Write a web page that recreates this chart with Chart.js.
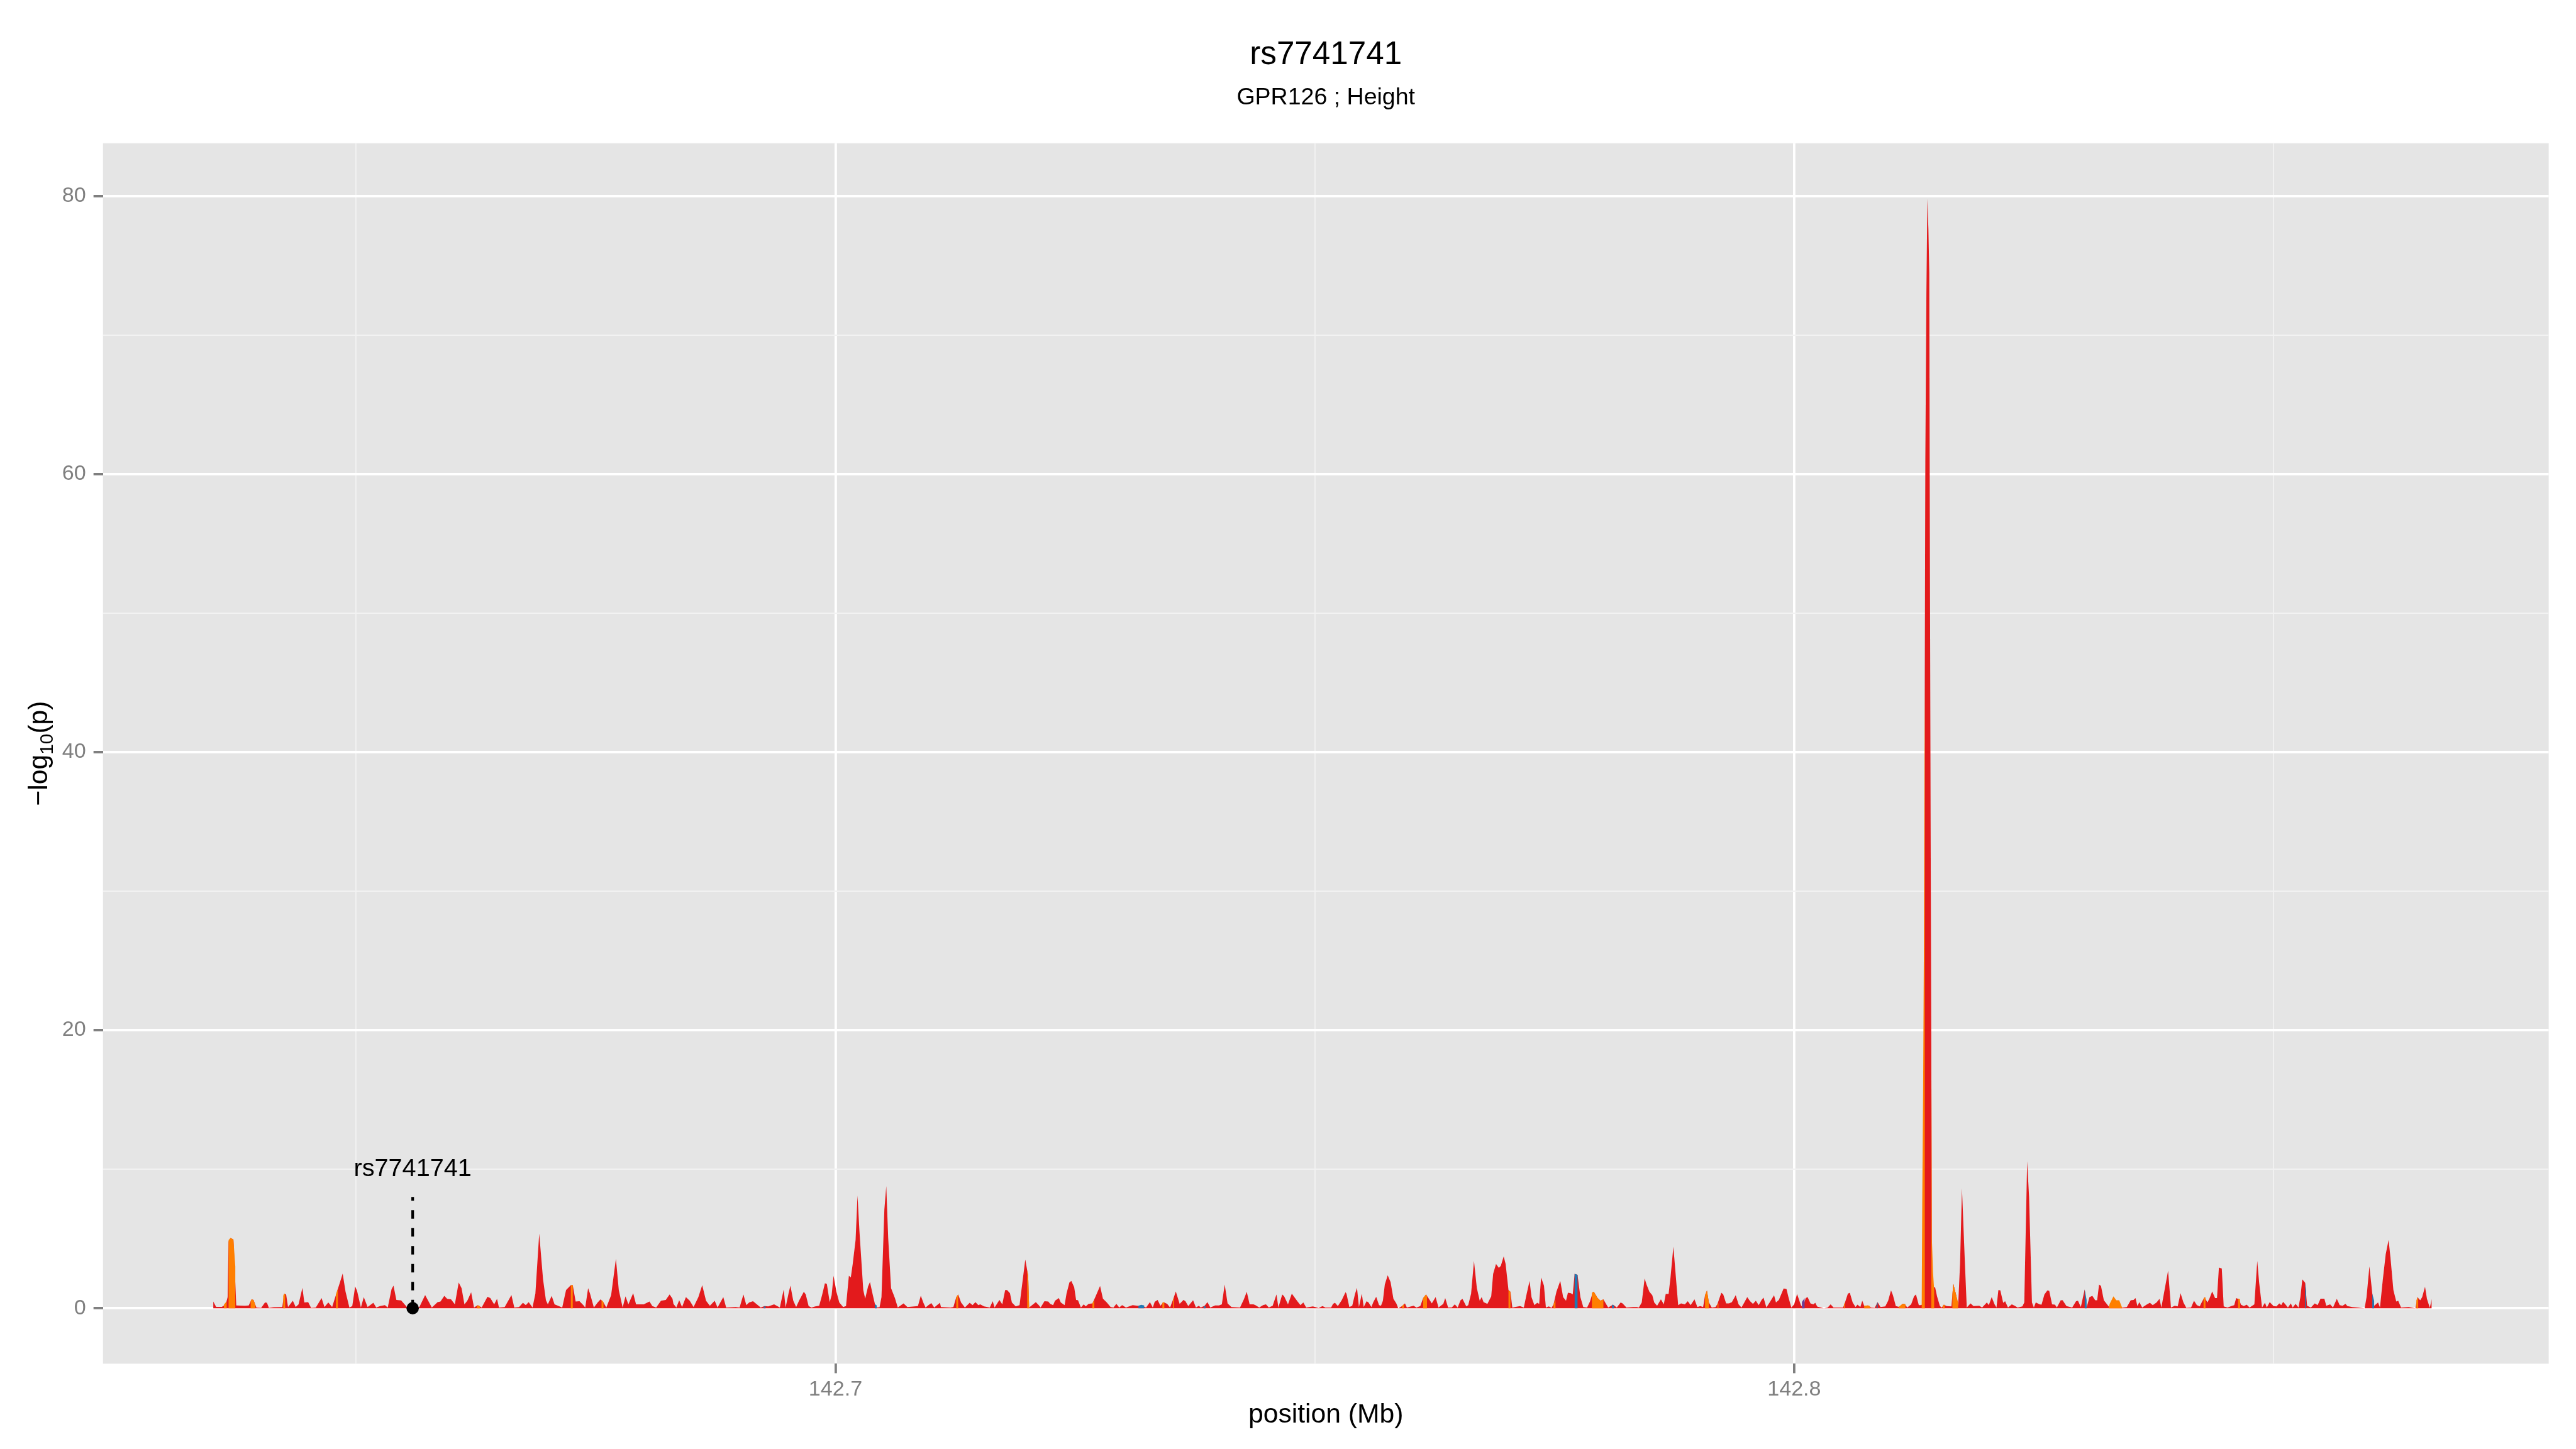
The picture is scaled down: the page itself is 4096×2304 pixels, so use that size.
<!DOCTYPE html>
<html>
<head>
<meta charset="utf-8">
<title>rs7741741</title>
<script src="https://cdn.jsdelivr.net/npm/chart.js@4/dist/chart.umd.min.js"></script>
<style>
  html, body { margin: 0; padding: 0; background: #fff; }
  canvas { display: block; }
</style>
</head>
<body>
<canvas id="chart" width="4096" height="2304"></canvas>
<script>
// positions in Mb, values are -log10(p)
const redPos = [
  142.6351, 142.6354, 142.6360, 142.6364, 142.6366, 142.6367, 142.6369, 142.6372, 142.6375, 142.6384,
  142.6388, 142.6391, 142.6393, 142.6396, 142.6401, 142.6405, 142.6407, 142.6409, 142.6414, 142.6423,
  142.6425, 142.6427, 142.6429, 142.6434, 142.6437, 142.6440, 142.6444, 142.6446, 142.6450, 142.6453,
  142.6458, 142.6464, 142.6467, 142.6471, 142.6475, 142.6480, 142.6483, 142.6486, 142.6489, 142.6493,
  142.6496, 142.6499, 142.6501, 142.6505, 142.6508, 142.6512, 142.6518, 142.6521, 142.6525, 142.6530,
  142.6533, 142.6537, 142.6539, 142.6542, 142.6547, 142.6553, 142.6559, 142.6566, 142.6572, 142.6579,
  142.6585, 142.6588, 142.6592, 142.6595, 142.6599, 142.6603, 142.6607, 142.6610, 142.6613, 142.6616,
  142.6620, 142.6623, 142.6627, 142.6631, 142.6637, 142.6640, 142.6644, 142.6647, 142.6649, 142.6655,
  142.6662, 142.6665, 142.6670, 142.6674, 142.6677, 142.6680, 142.6684, 142.6687, 142.6691, 142.6695,
  142.6698, 142.6700, 142.6704, 142.6707, 142.6715, 142.6719, 142.6724, 142.6726, 142.6729, 142.6733,
  142.6737, 142.6739, 142.6742, 142.6744, 142.6748, 142.6752, 142.6755, 142.6758, 142.6761, 142.6766,
  142.6771, 142.6774, 142.6778, 142.6781, 142.6784, 142.6789, 142.6792, 142.6800, 142.6806, 142.6809,
  142.6813, 142.6818, 142.6823, 142.6827, 142.6830, 142.6831, 142.6834, 142.6837, 142.6840, 142.6844,
  142.6848, 142.6852, 142.6857, 142.6861, 142.6865, 142.6869, 142.6874, 142.6877, 142.6883, 142.6886,
  142.6896, 142.6900, 142.6904, 142.6907, 142.6910, 142.6914, 142.6919, 142.6922, 142.6926, 142.6930,
  142.6936, 142.6942, 142.6946, 142.6948, 142.6951, 142.6953, 142.6956, 142.6959, 142.6962, 142.6967,
  142.6969, 142.6972, 142.6975, 142.6979, 142.6983, 142.6986, 142.6989, 142.6991, 142.6994, 142.6996,
  142.6998, 142.7001, 142.7004, 142.7008, 142.7011, 142.7014, 142.7016, 142.7018, 142.7021, 142.7023,
  142.7025, 142.7029, 142.7031, 142.7034, 142.7036, 142.7039, 142.7042, 142.7046, 142.7048, 142.7051,
  142.7053, 142.7055, 142.7058, 142.7062, 142.7065, 142.7071, 142.7075, 142.7086, 142.7089, 142.7092,
  142.7094, 142.7097, 142.7100, 142.7103, 142.7109, 142.7110, 142.7120, 142.7123, 142.7126, 142.7128,
  142.7131, 142.7135, 142.7140, 142.7143, 142.7146, 142.7149, 142.7151, 142.7155, 142.7161, 142.7164,
  142.7166, 142.7171, 142.7174, 142.7177, 142.7179, 142.7182, 142.7184, 142.7188, 142.7192, 142.7198,
  142.7201, 142.7202, 142.7209, 142.7212, 142.7214, 142.7218, 142.7222, 142.7224, 142.7227, 142.7229,
  142.7233, 142.7235, 142.7239, 142.7241, 142.7244, 142.7246, 142.7249, 142.7251, 142.7253, 142.7256,
  142.7259, 142.7261, 142.7264, 142.7268, 142.7271, 142.7276, 142.7279, 142.7283, 142.7287, 142.7290,
  142.7293, 142.7296, 142.7299, 142.7303, 142.7310, 142.7315, 142.7319, 142.7324, 142.7328, 142.7331,
  142.7333, 142.7336, 142.7339, 142.7342, 142.7346, 142.7349, 142.7352, 142.7355, 142.7359, 142.7363,
  142.7365, 142.7368, 142.7373, 142.7376, 142.7379, 142.7381, 142.7385, 142.7388, 142.7391, 142.7396,
  142.7400, 142.7403, 142.7406, 142.7409, 142.7413, 142.7422, 142.7426, 142.7429, 142.7432, 142.7436,
  142.7438, 142.7442, 142.7446, 142.7449, 142.7452, 142.7456, 142.7460, 142.7462, 142.7466, 142.7468,
  142.7472, 142.7476, 142.7482, 142.7485, 142.7488, 142.7491, 142.7498, 142.7504, 142.7508, 142.7511,
  142.7517, 142.7519, 142.7521, 142.7524, 142.7528, 142.7532, 142.7533, 142.7536, 142.7539, 142.7542,
  142.7544, 142.7546, 142.7549, 142.7551, 142.7554, 142.7556, 142.7559, 142.7561, 142.7564, 142.7567,
  142.7569, 142.7571, 142.7573, 142.7576, 142.7579, 142.7582, 142.7585, 142.7587, 142.7591, 142.7594,
  142.7596, 142.7603, 142.7606, 142.7610, 142.7613, 142.7616, 142.7619, 142.7622, 142.7626, 142.7629,
  142.7634, 142.7636, 142.7639, 142.7643, 142.7646, 142.7649, 142.7652, 142.7654, 142.7658, 142.7660,
  142.7663, 142.7666, 142.7669, 142.7672, 142.7674, 142.7676, 142.7680, 142.7684, 142.7686, 142.7689,
  142.7692, 142.7694, 142.7697, 142.7699, 142.7702, 142.7704, 142.7706, 142.7714, 142.7718, 142.7721,
  142.7724, 142.7726, 142.7729, 142.7732, 142.7734, 142.7736, 142.7739, 142.7741, 142.7744, 142.7747,
  142.7749, 142.7752, 142.7756, 142.7759, 142.7762, 142.7764, 142.7767, 142.7769, 142.7771, 142.7774,
  142.7777, 142.7780, 142.7784, 142.7787, 142.7790, 142.7791, 142.7795, 142.7798, 142.7801, 142.7804,
  142.7806, 142.7811, 142.7815, 142.7819, 142.7821, 142.7825, 142.7832, 142.7836, 142.7838, 142.7841,
  142.7844, 142.7846, 142.7849, 142.7852, 142.7854, 142.7857, 142.7861, 142.7864, 142.7866, 142.7869,
  142.7871, 142.7874, 142.7876, 142.7879, 142.7882, 142.7886, 142.7889, 142.7892, 142.7896, 142.7899,
  142.7902, 142.7905, 142.7907, 142.7909, 142.7911, 142.7914, 142.7918, 142.7920, 142.7924, 142.7926,
  142.7929, 142.7932, 142.7935, 142.7939, 142.7942, 142.7945, 142.7948, 142.7951, 142.7954, 142.7957,
  142.7960, 142.7963, 142.7966, 142.7968, 142.7971, 142.7975, 142.7979, 142.7981, 142.7984, 142.7989,
  142.7992, 142.7994, 142.7997, 142.8000, 142.8003, 142.8007, 142.8009, 142.8012, 142.8014, 142.8017,
  142.8020, 142.8022, 142.8024, 142.8031, 142.8035, 142.8038, 142.8041, 142.8051, 142.8053, 142.8056,
  142.8058, 142.8061, 142.8064, 142.8066, 142.8069, 142.8071, 142.8073, 142.8077, 142.8080, 142.8084,
  142.8087, 142.8090, 142.8095, 142.8098, 142.8101, 142.8103, 142.8106, 142.8110, 142.8113, 142.8115,
  142.8118, 142.8122, 142.8125, 142.8127, 142.8130, 142.8132, 142.81355, 142.81362, 142.81368, 142.81379,
  142.81389, 142.81400, 142.81409, 142.81415, 142.81423, 142.81430, 142.81436, 142.8147, 142.8149, 142.8152,
  142.8154, 142.8156, 142.8159, 142.8164, 142.8166, 142.8169, 142.8171, 142.8173, 142.8175, 142.8178,
  142.8180, 142.8184, 142.8187, 142.8193, 142.8196, 142.8201, 142.8203, 142.8206, 142.8209, 142.8211,
  142.8213, 142.8215, 142.8218, 142.8220, 142.8223, 142.8227, 142.8230, 142.8233, 142.8238, 142.8240,
  142.8243, 142.8245, 142.8248, 142.8250, 142.8252, 142.8256, 142.8258, 142.8261, 142.8264, 142.8266,
  142.8269, 142.8272, 142.8274, 142.8278, 142.8280, 142.8284, 142.8290, 142.8294, 142.8296, 142.8299,
  142.8303, 142.8305, 142.8308, 142.8311, 142.8314, 142.8316, 142.8318, 142.8320, 142.8323, 142.8327,
  142.8329, 142.8343, 142.8347, 142.8351, 142.8354, 142.8356, 142.8358, 142.8360, 142.8363, 142.8368,
  142.8371, 142.8374, 142.8378, 142.8381, 142.8383, 142.8387, 142.8390, 142.8393, 142.8397, 142.8400,
  142.8403, 142.8406, 142.8409, 142.8414, 142.8417, 142.8420, 142.8423, 142.8425, 142.8428, 142.8431,
  142.8433, 142.8436, 142.8439, 142.8441, 142.8443, 142.8446, 142.8448, 142.8452, 142.8456, 142.8459,
  142.8461, 142.8464, 142.8466, 142.8469, 142.8472, 142.8475, 142.8480, 142.8483, 142.8485, 142.8488,
  142.8491, 142.8493, 142.8496, 142.8500, 142.8503, 142.8506, 142.8508, 142.8510, 142.8513, 142.8515,
  142.8518, 142.8520, 142.8523, 142.8526, 142.8528, 142.8530, 142.8533, 142.8535, 142.8539, 142.8543,
  142.8546, 142.8549, 142.8553, 142.8555, 142.8559, 142.8562, 142.8566, 142.8569, 142.8572, 142.8575,
  142.8577, 142.8582, 142.8588, 142.8595, 142.8597, 142.8600, 142.8603, 142.8605, 142.8609, 142.8611,
  142.8614, 142.8617, 142.8620, 142.8622, 142.8625, 142.8628, 142.8630, 142.8633, 142.8641, 142.8648,
  142.8650, 142.8653, 142.8655, 142.8658, 142.8660, 142.8663, 142.8665
];
const redVal = [
  0.48, 0.1, 0.1, 0.28, 0.8, 4.8, 5.05, 4.95, 0.2, 0.18,
  0.2, 0.64, 0.6, 0.05, 0.03, 0.41, 0.39, 0.03, 0.08, 0.09,
  1.05, 0.99, 0.09, 0.54, 0.09, 0.28, 1.47, 0.41, 0.44, 0.03,
  0.05, 0.73, 0.09, 0.41, 0.09, 1.18, 1.83, 2.5, 1.18, 0.05,
  0.15, 1.57, 1.25, 0.05, 0.8, 0.09, 0.39, 0.05, 0.15, 0.22,
  0.05, 1.38, 1.63, 0.6, 0.56, 0.09, 0.02, 0.09, 0.95, 0.05,
  0.44, 0.48, 0.89, 0.67, 0.64, 0.28, 1.85, 1.44, 0.28, 0.54,
  1.15, 0.05, 0.22, 0.05, 0.82, 0.73, 0.28, 0.67, 0.05, 0.09,
  0.95, 0.05, 0.09, 0.39, 0.22, 0.44, 0.05, 1.05, 5.37, 2.08,
  0.57, 0.28, 0.89, 0.28, 0.05, 1.31, 1.66, 1.66, 0.48, 0.51,
  0.22, 0.05, 1.44, 1.05, 0.05, 0.41, 0.64, 0.41, 0.05, 0.93,
  3.56, 1.31, 0.05, 0.86, 0.28, 1.08, 0.28, 0.28, 0.48, 0.15,
  0.05, 0.54, 0.6, 0.99, 0.69, 0.31, 0.05, 0.57, 0.09, 0.8,
  0.54, 0.09, 0.8, 1.66, 0.54, 0.18, 0.54, 0.05, 0.8, 0.05,
  0.09, 0.05, 0.99, 0.22, 0.41, 0.51, 0.22, 0.05, 0.15, 0.13,
  0.28, 0.05, 1.34, 0.05, 1.05, 1.63, 0.54, 0.09, 0.54, 1.18,
  0.99, 0.15, 0.05, 0.13, 0.18, 0.93, 1.79, 1.75, 0.44, 0.93,
  2.34, 1.18, 0.41, 0.09, 0.15, 2.34, 2.21, 3.18, 4.92, 8.1,
  5.56, 1.31, 0.69, 1.57, 1.89, 0.93, 0.05, 0.08, 0.8, 7.1,
  8.78, 5.04, 1.44, 0.73, 0.05, 0.35, 0.09, 0.15, 0.9, 0.35,
  0.05, 0.22, 0.37, 0.05, 0.39, 0.09, 0.05, 0.09, 0.8, 0.99,
  0.41, 0.05, 0.39, 0.22, 0.44, 0.22, 0.28, 0.13, 0.05, 0.51,
  0.05, 0.6, 0.28, 1.31, 1.31, 1.08, 0.41, 0.13, 0.22, 3.5,
  2.34, 0.05, 0.44, 0.22, 0.05, 0.51, 0.48, 0.31, 0.22, 0.54,
  0.73, 0.41, 0.22, 1.05, 1.85, 1.96, 1.51, 0.6, 0.57, 0.05,
  0.28, 0.13, 0.31, 0.35, 0.8, 1.6, 0.69, 0.41, 0.09, 0.05,
  0.31, 0.05, 0.22, 0.05, 0.22, 0.18, 0.2, 0.05, 0.44, 0.05,
  0.46, 0.6, 0.18, 0.44, 0.31, 0.05, 0.6, 1.21, 0.31, 0.6,
  0.51, 0.15, 0.57, 0.05, 0.18, 0.05, 0.18, 0.44, 0.05, 0.2,
  0.2, 0.28, 1.7, 0.35, 0.09, 0.05, 0.64, 1.18, 0.28, 0.28,
  0.22, 0.05, 0.22, 0.28, 0.05, 0.18, 0.99, 0.05, 0.99, 0.86,
  0.28, 1.05, 0.48, 0.22, 0.41, 0.05, 0.13, 0.02, 0.15, 0.05,
  0.05, 0.31, 0.39, 0.15, 0.57, 1.15, 1.05, 0.09, 0.18, 1.05,
  1.47, 0.09, 1.05, 0.09, 0.51, 0.41, 0.09, 0.44, 0.82, 0.22,
  0.18, 0.54, 1.7, 2.37, 1.89, 0.67, 0.35, 0.0, 0.15, 0.35,
  0.05, 0.18, 0.05, 0.15, 0.73, 0.99, 0.67, 0.35, 0.8, 0.05,
  0.31, 0.73, 0.05, 0.06, 0.28, 0.05, 0.57, 0.67, 0.13, 0.22,
  1.05, 3.4, 1.44, 0.54, 0.8, 0.44, 0.31, 0.86, 2.47, 3.18,
  2.9, 3.05, 3.73, 3.18, 1.31, 1.18, 0.05, 0.15, 0.05, 1.05,
  1.96, 0.8, 0.22, 0.39, 0.31, 2.21, 1.63, 0.05, 0.13, 0.03,
  0.28, 1.18, 1.96, 0.8, 0.54, 1.12, 1.08, 0.99, 2.47, 2.41,
  0.8, 0.09, 0.05, 0.48, 1.16, 1.18, 0.73, 0.54, 0.64, 0.28,
  0.05, 0.26, 0.05, 0.41, 0.35, 0.05, 0.09, 0.09, 0.05, 0.41,
  2.15, 1.7, 1.18, 0.93, 0.41, 0.18, 0.64, 0.28, 1.03, 1.03,
  2.21, 4.43, 2.73, 0.22, 0.35, 0.28, 0.51, 0.22, 0.64, 0.09,
  0.15, 0.09, 0.93, 1.27, 0.41, 0.05, 0.09, 0.31, 1.12, 0.99,
  0.35, 0.35, 0.44, 0.93, 0.28, 0.05, 0.41, 0.8, 0.51, 0.31,
  0.54, 0.22, 0.6, 0.76, 0.05, 0.48, 0.93, 0.41, 0.6, 1.42,
  1.38, 0.8, 0.05, 0.28, 1.03, 0.22, 0.05, 0.73, 0.8, 0.35,
  0.28, 0.39, 0.12, 0.0, 0.05, 0.28, 0.05, 0.05, 0.41, 1.05,
  1.12, 0.41, 0.09, 0.26, 0.09, 0.54, 0.18, 0.2, 0.05, 0.03,
  0.44, 0.09, 0.13, 0.54, 1.29, 0.93, 0.15, 0.09, 0.31, 0.31,
  0.05, 0.28, 0.86, 0.99, 0.22, 0.22, 0.3, 45, 61, 73,
  79.8, 77.6, 74.5, 56, 35, 19, 1.5, 1.5, 0.86, 0.15,
  0.05, 0.26, 0.15, 0.13, 1.76, 0.93, 0.15, 3.18, 8.65, 3.35,
  0.05, 0.35, 0.15, 0.18, 0.05, 0.41, 0.22, 0.8, 0.28, 0.05,
  1.31, 1.29, 0.39, 0.5, 0.05, 0.28, 0.18, 0.05, 0.13, 0.41,
  10.58, 8.0, 0.41, 0.05, 0.41, 0.28, 0.26, 0.99, 1.27, 1.25,
  0.28, 0.26, 0.05, 0.57, 0.57, 0.15, 0.05, 0.51, 0.54, 0.09,
  1.35, 0.05, 0.8, 0.89, 0.57, 0.57, 1.7, 1.6, 0.57, 0.22,
  0.05, 0.05, 0.09, 0.57, 0.6, 0.73, 0.15, 0.44, 0.05, 0.28,
  0.39, 0.22, 0.41, 0.67, 0.05, 1.57, 2.7, 0.05, 0.18, 0.13,
  1.08, 0.41, 0.03, 0.05, 0.54, 0.22, 0.13, 0.41, 0.8, 0.41,
  0.67, 1.21, 0.73, 0.73, 2.92, 2.86, 0.13, 0.05, 0.15, 0.22,
  0.73, 0.64, 0.26, 0.15, 0.26, 0.05, 0.28, 3.4, 1.83, 0.05,
  0.39, 0.05, 0.44, 0.15, 0.13, 0.35, 0.22, 0.46, 0.22, 0.05,
  0.35, 0.05, 0.31, 0.05, 0.8, 2.08, 1.83, 0.18, 0.05, 0.35,
  0.22, 0.69, 0.69, 0.18, 0.28, 0.05, 0.67, 0.22, 0.18, 0.31,
  0.15, 0.09, 0.05, 0.0, 0.8, 3.01, 1.05, 0.18, 0.41, 0.05,
  2.08, 3.89, 4.92, 3.6, 1.31, 0.48, 0.54, 0.05, 0.09, 0.0,
  0.8, 0.57, 0.8, 1.54, 0.67, 0.03, 0.67
];

// narrow coloured stretches drawn over the red profile
const orangePos = [
  142.6362, 142.6362, 142.6365, 142.6365,
  142.6367, 142.6367, 142.6369, 142.6372, 142.6374, 142.6374,
  142.6390, 142.6390, 142.6391, 142.6393, 142.6395, 142.6395,
  142.6424, 142.6424, 142.6425, 142.6426, 142.6426,
  142.6479, 142.6479, 142.6481, 142.6481,
  142.6626, 142.6626, 142.6629, 142.6629,
  142.6724, 142.6724, 142.6726, 142.6726,
  142.6756, 142.6756, 142.6758, 142.6758,
  142.7126, 142.7126, 142.7128, 142.7128,
  142.7200, 142.7200, 142.7201, 142.7202, 142.7202,
  142.7268, 142.7268, 142.7270, 142.7270,
  142.7341, 142.7341, 142.7343, 142.7343,
  142.7352, 142.7352, 142.7353, 142.7353,
  142.7591, 142.7591, 142.7593, 142.7593,
  142.7613, 142.7613, 142.7616, 142.7617, 142.7617,
  142.7702, 142.7702, 142.7704, 142.7704,
  142.7749, 142.7749, 142.7751, 142.7751,
  142.7789, 142.7789, 142.7790, 142.7791, 142.7795, 142.7798, 142.7801, 142.7801,
  142.7907, 142.7907, 142.7909, 142.7911, 142.7911,
  142.7920, 142.7920, 142.7921, 142.7921,
  142.8052, 142.8052, 142.8053, 142.8053,
  142.8073, 142.8073, 142.8077, 142.8079, 142.8079,
  142.8109, 142.8109, 142.8113, 142.8116, 142.8116,
  142.8133, 142.81336, 142.81345, 142.81352, 142.81358, 142.81362, 142.81363,
  142.8143, 142.8143, 142.81436, 142.81448, 142.8146, 142.8146,
  142.8155, 142.8155, 142.8157, 142.8157,
  142.8165, 142.8165, 142.8166, 142.8169, 142.8171, 142.8171,
  142.8328, 142.8329, 142.8333, 142.8336, 142.8339, 142.8342, 142.8342,
  142.8427, 142.8427, 142.8429, 142.8429,
  142.8463, 142.8463, 142.8465, 142.8465,
  142.8649, 142.8649, 142.8651, 142.8651
];
const orangeVal = [
  0, 0.25, 0.5, 0,
  0, 4.9, 5.05, 4.95, 3.0, 0,
  0, 0.5, 0.64, 0.6, 0.2, 0,
  0, 0.9, 1.05, 1.0, 0,
  0, 1.0, 1.4, 0,
  0, 0.2, 0.15, 0,
  0, 1.66, 1.66, 0,
  0, 0.6, 0.45, 0,
  0, 0.8, 0.99, 0,
  0, 2.73, 2.34, 0.05, 0,
  0, 0.35, 0.6, 0,
  0, 0.4, 0.44, 0,
  0, 0.6, 0.8, 0,
  0, 0.15, 0.3, 0,
  0, 0.73, 0.99, 0.85, 0,
  0, 1.31, 1.18, 0,
  0, 0.28, 0.6, 0,
  0, 1.1, 1.16, 1.18, 0.73, 0.54, 0.64, 0,
  0, 0.93, 1.27, 0.41, 0,
  0, 0.31, 0.35, 0,
  0, 0.3, 0.41, 0,
  0, 0.18, 0.2, 0.15, 0,
  0, 0.1, 0.31, 0.3, 0,
  0, 8, 16, 25, 40, 45, 0,
  0, 19, 5, 2.6, 1.3, 0,
  0, 0.2, 0.26, 0,
  0, 1.0, 1.76, 0.93, 0.4, 0,
  0, 0.3, 0.86, 0.57, 0.57, 0.05, 0,
  0, 0.7, 0.8, 0,
  0, 0.7, 0.65, 0,
  0, 0.6, 0.8, 0
];
const bluePos = [
  142.6925, 142.6925, 142.6927, 142.6927,
  142.7041, 142.7041, 142.7043, 142.7043,
  142.7316, 142.7316, 142.7319, 142.7322, 142.7322,
  142.7384, 142.7384, 142.7386, 142.7386,
  142.7771, 142.7771, 142.7774, 142.7774,
  142.7810, 142.7810, 142.7812, 142.7812,
  142.8086, 142.8086, 142.8087, 142.8087,
  142.8303, 142.8303, 142.8305, 142.8305,
  142.8533, 142.8533, 142.8534, 142.8534,
  142.8603, 142.8603, 142.8605, 142.8605
];
const blueVal = [
  0, 0.1, 0.15, 0,
  0, 0.3, 0.2, 0,
  0, 0.18, 0.25, 0.2, 0,
  0, 0.12, 0.15, 0,
  0, 2.47, 2.41, 0,
  0, 0.26, 0.2, 0,
  0, 0.3, 0.44, 0,
  0, 1.35, 0.6, 0,
  0, 1.83, 1.2, 0,
  0, 1.05, 0.5, 0
];
const purplePos = [142.8008, 142.8008, 142.8011, 142.8011];
const purpleVal = [0, 0.45, 0.73, 0];

// highlighted SNP
const snpName = 'rs7741741';
const snpPos = 142.6559;
const snpLineTop = 8;
const snpLabelY = 10;

const plotTitle = 'rs7741741';
const plotSubtitle = 'GPR126 ; Height';
const xTitle = 'position (Mb)';

const xTicks = [142.7, 142.8];
const yTicks = [0, 20, 40, 60, 80];
const xMin = 142.6236, xMax = 142.8787;
const yMin = -3.99, yMax = 83.79;

const S = 0.853; // reference pixels -> canvas pixels
const FONT = '"Liberation Sans", Arial, sans-serif';
Chart.defaults.font.family = FONT;

const toPoints = (pos, val) => pos.map((x, i) => ({ x: x, y: val[i] }));
const isMajor = (v, list) => list.some(t => Math.abs(t - v) < 1e-6);

function area(pos, val, color, order) {
  return {
    data: toPoints(pos, val),
    backgroundColor: color,
    borderColor: 'rgba(0,0,0,0)',
    borderWidth: 0,
    pointRadius: 0,
    fill: 'origin',
    tension: 0,
    order: order
  };
}

function gridFor(list) {
  return {
    color: c => (c.tick && isMajor(c.tick.value, list)) ? '#FFFFFF' : '#F2F2F2',
    lineWidth: c => (c.tick && isMajor(c.tick.value, list)) ? 4.45 * S : 2.2 * S,
    tickColor: c => (c.tick && isMajor(c.tick.value, list)) ? '#7F7F7F' : 'rgba(0,0,0,0)',
    tickWidth: 4.45 * S,
    tickLength: 17.7 * S,
    drawTicks: true
  };
}

const ggplotLook = {
  id: 'ggplotLook',
  beforeDraw(chart) {
    const { ctx, chartArea: a } = chart;
    ctx.save();
    ctx.fillStyle = '#FFFFFF';
    ctx.fillRect(0, 0, chart.width, chart.height);
    ctx.fillStyle = '#E5E5E5';
    ctx.fillRect(a.left, a.top, a.right - a.left, a.bottom - a.top);
    ctx.restore();
  },
  afterDatasetsDraw(chart) {
    const ctx = chart.ctx;
    const x = chart.scales.x.getPixelForValue(snpPos);
    const y = chart.scales.y.getPixelForValue(snpLabelY);
    ctx.save();
    ctx.fillStyle = '#000';
    ctx.font = (46.5 * S) + 'px ' + FONT;
    ctx.textAlign = 'center';
    ctx.textBaseline = 'middle';
    ctx.fillText(snpName, x, y);
    ctx.restore();
  },
  afterDraw(chart) {
    const { ctx, chartArea: a } = chart;
    const cx = (a.left + a.right) / 2;
    ctx.save();
    ctx.fillStyle = '#000';
    ctx.textAlign = 'center';
    ctx.textBaseline = 'alphabetic';
    ctx.font = (60 * S) + 'px ' + FONT;
    ctx.fillText(plotTitle, cx, 120 * S);
    ctx.font = (44 * S) + 'px ' + FONT;
    ctx.fillText(plotSubtitle, cx, 195 * S);

    // y axis title: -log10(p) with subscript
    const main = (50 * S) + 'px ' + FONT;
    const sub = (35 * S) + 'px ' + FONT;
    ctx.translate(88 * S, (a.top + a.bottom) / 2);
    ctx.rotate(-Math.PI / 2);
    ctx.textAlign = 'left';
    ctx.font = main;
    const w1 = ctx.measureText('\u2212log').width;
    const w3 = ctx.measureText('(p)').width;
    ctx.font = sub;
    const w2 = ctx.measureText('10').width;
    let x = -(w1 + w2 + w3) / 2;
    ctx.font = main;
    ctx.fillText('\u2212log', x, 0);
    x += w1;
    ctx.font = sub;
    ctx.fillText('10', x, 10 * S);
    x += w2;
    ctx.font = main;
    ctx.fillText('(p)', x, 0);
    ctx.restore();
  }
};

const canvas = document.getElementById('chart');

new Chart(canvas, {
  type: 'line',
  data: {
    datasets: [
      {
        data: [{ x: snpPos, y: 0 }],
        showLine: false,
        pointRadius: 11.5 * S,
        pointBackgroundColor: '#000000',
        pointBorderWidth: 0,
        order: 0
      },
      {
        data: [{ x: snpPos, y: 0 }, { x: snpPos, y: snpLineTop }],
        borderColor: '#000000',
        borderWidth: 5 * S,
        borderDash: [15.7 * S, 17.7 * S],
        pointRadius: 0,
        fill: false,
        order: 1
      },
      area(purplePos, purpleVal, '#6A3D9A', 2),
      area(bluePos, blueVal, '#1F78B4', 3),
      area(orangePos, orangeVal, '#FF7F00', 4),
      area(redPos, redVal, '#E31A1C', 5)
    ]
  },
  options: {
    responsive: false,
    animation: false,
    devicePixelRatio: 1,
    events: [],
    layout: {
      padding: { top: 267 * S, right: canvas.width - 4751 * S, bottom: 0, left: 0 }
    },
    plugins: {
      legend: { display: false },
      tooltip: { enabled: false }
    },
    scales: {
      x: {
        type: 'linear',
        min: xMin,
        max: xMax,
        afterFit: s => { s.height = (2700 - 2541) * S; },
        border: { display: false },
        grid: gridFor(xTicks),
        ticks: {
          stepSize: 0.05,
          includeBounds: false,
          autoSkip: false,
          maxRotation: 0,
          padding: 6,
          color: '#7F7F7F',
          font: { size: 40 * S },
          callback: v => isMajor(v, xTicks) ? v.toFixed(1) : ''
        },
        title: {
          display: true,
          text: xTitle,
          color: '#000000',
          font: { size: 50 * S },
          padding: { top: 0, bottom: 28.5 }
        }
      },
      y: {
        type: 'linear',
        min: yMin,
        max: yMax,
        afterFit: s => { s.width = 192 * S; },
        border: { display: false },
        grid: gridFor(yTicks),
        ticks: {
          stepSize: 10,
          includeBounds: false,
          autoSkip: false,
          padding: 12,
          color: '#7F7F7F',
          font: { size: 40 * S },
          callback: v => isMajor(v, yTicks) ? String(v) : ''
        }
      }
    }
  },
  plugins: [ggplotLook]
});
</script>
</body>
</html>
